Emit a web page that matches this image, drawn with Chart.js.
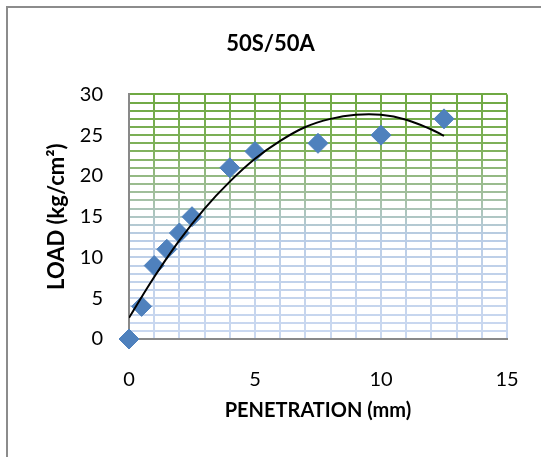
<!DOCTYPE html>
<html>
<head>
<meta charset="utf-8">
<title>50S/50A</title>
<script src="https://cdn.jsdelivr.net/npm/chart.js@4/dist/chart.umd.min.js"></script>
<style>
  html, body { margin: 0; padding: 0; background: #ffffff; }
  canvas { display: block; }
</style>
</head>
<body>
<canvas id="chart" width="541" height="457"></canvas>
<script>
// Measured points (penetration in mm, load in kg/cm2)
const penetration = [ 0, 0.5, 1, 1.5, 2, 2.5, 4, 5, 7.5, 10, 12.5 ];
const load = [ 0, 4, 9, 11, 13, 15, 21, 23, 24, 25, 27 ];

// Trendline
const trendX = [ 0, 1, 2, 3, 4, 5, 6, 7, 8, 9, 10, 11, 12, 12.5 ];
const trendY = [ 2.6, 7.6, 12.1, 16.0, 19.3, 22.1, 24.3, 26.0, 27.0, 27.5, 27.5, 26.9, 25.7, 24.9 ];

const xTickLabels = [ 0, 5, 10, 15 ];
const yTickLabels = [ 0, 5, 10, 15, 20, 25, 30 ];

const FONT = "Lato, 'Open Sans', sans-serif";

let gridGradient = ( context ) => {
  let chart = context.chart;
  let area = chart.chartArea;
  if ( !area ) return '#c9d8f0';
  let g = chart.ctx.createLinearGradient( 0, area.top, 0, area.bottom );
  g.addColorStop( 0, '#6fa943' );
  g.addColorStop( 0.22, '#7fb15b' );
  g.addColorStop( 0.42, '#a4c0a2' );
  g.addColorStop( 0.58, '#bacde6' );
  g.addColorStop( 1, '#cbd9f1' );
  return g;
};

// Frame around the chart: only the top and left edges show in the window
const framePlugin = {
  id: 'frame',
  beforeDraw( chart ) {
    let ctx = chart.ctx;
    ctx.save();
    ctx.fillStyle = '#8c8c8c';
    ctx.fillRect( 6, 6, 2, chart.height - 6 );
    ctx.fillRect( 6, 6, chart.width - 6, 2 );
    ctx.restore();
  }
};

new Chart( document.getElementById( 'chart' ), {
  type: 'scatter',
  data: {
    datasets: [
      {
        label: 'Trend',
        data: trendX.map( ( x, i ) => ( { x: x, y: trendY[ i ] } ) ),
        showLine: true,
        borderColor: '#000000',
        borderWidth: 2,
        pointRadius: 0,
        tension: 0.4,
        fill: false
      },
      {
        label: '50S/50A',
        data: penetration.map( ( x, i ) => ( { x: x, y: load[ i ] } ) ),
        pointStyle: 'rectRot',
        pointRadius: 10,
        pointHoverRadius: 10,
        backgroundColor: '#4f81bd',
        borderColor: '#4f81bd',
        borderWidth: 1,
        clip: false
      }
    ]
  },
  options: {
    responsive: false,
    animation: false,
    events: [],
    layout: { padding: { left: 7, top: 7, right: 7, bottom: 0 } },
    plugins: {
      legend: { display: false },
      tooltip: { enabled: false },
      title: {
        display: true,
        text: '50S/50A',
        color: '#000000',
        font: { family: FONT, size: 22, weight: 'bold' },
        padding: { top: 24, bottom: 37 }
      }
    },
    scales: {
      x: {
        type: 'linear',
        min: 0,
        max: 15,
        afterFit: ( scale ) => {
          scale.height = 118;
          // the big label gap would otherwise be reserved at both ends
          scale.paddingLeft = 12;
          scale.paddingRight = 12;
        },
        ticks: {
          stepSize: 1,
          autoSkip: false,
          maxRotation: 0,
          padding: 29,
          color: '#000000',
          font: { family: FONT, size: 20 },
          callback: ( value ) => xTickLabels.includes( value ) ? String( value ) : ''
        },
        grid: { color: gridGradient, lineWidth: 2, drawTicks: false },
        border: { display: true, color: '#898989', width: 2 },
        title: {
          display: true,
          text: 'PENETRATION (mm)',
          color: '#000000',
          font: { family: FONT, size: 20, weight: 'bold' },
          padding: { top: 0, bottom: 34 }
        }
      },
      y: {
        type: 'linear',
        min: 0,
        max: 30,
        afterFit: ( scale ) => { scale.width = 122; },
        ticks: {
          stepSize: 1,
          autoSkip: false,
          padding: 26,
          color: '#000000',
          font: { family: FONT, size: 20 },
          callback: ( value ) => yTickLabels.includes( value ) ? String( value ) : ''
        },
        grid: { color: gridGradient, lineWidth: 2, drawTicks: false },
        border: { display: true, color: '#898989', width: 2 },
        title: {
          display: true,
          text: 'LOAD (kg/cm²)',
          color: '#000000',
          font: { family: FONT, size: 22, weight: 'bold' },
          padding: { top: 37, bottom: 0 }
        }
      },
      // empty right-hand box so the plot ends at the same place as in the picture
      y2: {
        type: 'linear',
        position: 'right',
        display: true,
        afterFit: ( scale ) => { scale.width = 27; },
        ticks: { display: false },
        grid: { display: false, drawTicks: false },
        border: { display: false }
      }
    }
  },
  plugins: [ framePlugin ]
} );
</script>
</body>
</html>
